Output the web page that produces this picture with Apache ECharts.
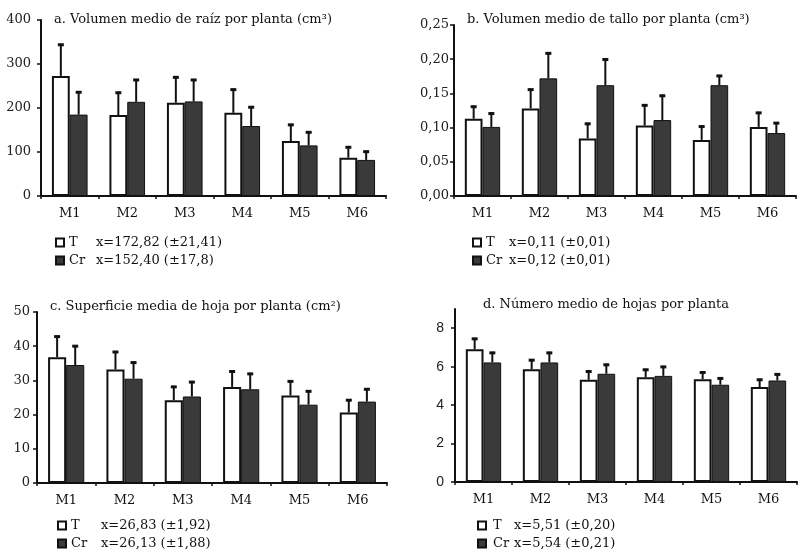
<!DOCTYPE html>
<html><head><meta charset="utf-8">
<script src="https://cdn.jsdelivr.net/npm/echarts@6/dist/echarts.min.js"></script>
<style>html,body{margin:0;padding:0;background:#fff}#c{width:799px;height:550px}</style>
</head><body><div id="c"></div>
<script>
var categories = ['M1','M2','M3','M4','M5','M6'];

var rootT = [273, 184, 212, 189, 125, 87];
var rootTErr = [73, 53, 60, 55, 39, 26];
var rootCr = [185, 214, 215, 159, 115, 82];
var rootCrErr = [53, 52, 51, 45, 32, 21];

var stemT = [0.113, 0.128, 0.084, 0.103, 0.082, 0.101];
var stemTErr = [0.019, 0.029, 0.023, 0.031, 0.021, 0.022];
var stemCr = [0.101, 0.172, 0.162, 0.111, 0.162, 0.092];
var stemCrErr = [0.021, 0.038, 0.039, 0.037, 0.015, 0.016];

var leafT = [36.8, 33.2, 24.2, 28.1, 25.6, 20.6];
var leafTErr = [6.3, 5.4, 4.2, 4.8, 4.4, 3.9];
var leafCr = [34.5, 30.5, 25.3, 27.4, 22.9, 23.8];
var leafCrErr = [5.8, 5.0, 4.5, 4.8, 4.2, 3.9];

var nLeafT = [6.91, 5.87, 5.32, 5.45, 5.35, 4.94];
var nLeafTErr = [0.59, 0.52, 0.48, 0.44, 0.40, 0.43];
var nLeafCr = [6.22, 6.22, 5.63, 5.52, 5.06, 5.28];
var nLeafCrErr = [0.55, 0.55, 0.52, 0.52, 0.38, 0.37];

var titles = [
  'a. Volumen medio de raíz por planta (cm³)',
  'b. Volumen medio de tallo por planta (cm³)',
  'c. Superficie media de hoja por planta (cm²)',
  'd. Número medio de hojas por planta'
];
var legendT = ['x=172,82 (±21,41)', 'x=0,11 (±0,01)', 'x=26,83 (±1,92)', 'x=5,51 (±0,20)'];
var legendCr = ['x=152,40 (±17,8)', 'x=0,12 (±0,01)', 'x=26,13 (±1,88)', 'x=5,54 (±0,21)'];

var yMax = [400, 0.25, 50, 9];
var yInterval = [100, 0.05, 10, 2];
var yTicks = [null, null, null, [0, 2, 4, 6, 8]];

var panels = [
  [rootT, rootTErr, rootCr, rootCrErr],
  [stemT, stemTErr, stemCr, stemCrErr],
  [leafT, leafTErr, leafCr, leafCrErr],
  [nLeafT, nLeafTErr, nLeafCr, nLeafCrErr]
];

var SERIF = '"DejaVu Serif", "Liberation Serif", serif';
var SANS = '"Liberation Sans", Arial, sans-serif';
var INK = '#111';
var DARK = '#3a3a3a';

var grids = [
  {left: 41, top: 20, width: 345, height: 176},
  {left: 454, top: 25, width: 342, height: 171},
  {left: 37, top: 312, width: 350, height: 171},
  {left: 455, top: 309, width: 342, height: 173}
];
var titlePos = [[54, 13], [467, 13], [50, 300], [483, 298]];
var legendPos = [[55, 236], [472, 236], [57, 519], [477, 519]];
var nameWidth = [27, 23, 30, 21];
var namePad = [0, 0, 0, 2];
var yMargin = [10, 5, 7, 11];

function errRender(sign) {
  return function (params, api) {
    var i = api.value(0), v = api.value(1), e = api.value(2);
    var base = api.coord([i, v]);
    var top = api.coord([i, v + e]);
    var band = api.size([1, 0])[0];
    var x = base[0] + sign * band * 0.155;
    return {type: 'group', children: [
      {type: 'line', shape: {x1: x, y1: base[1], x2: x, y2: top[1]}, style: {stroke: INK, lineWidth: 2}},
      {type: 'line', shape: {x1: x - 3, y1: top[1] + 1, x2: x + 3, y2: top[1] + 1}, style: {stroke: INK, lineWidth: 3}}
    ]};
  };
}

function fmtY(p) {
  return function (v) {
    if (p === 1) return v.toFixed(2).replace('.', ',');
    return String(Math.round(v));
  };
}

var option = {
  animation: false,
  backgroundColor: '#fff',
  title: titles.map(function (t, k) {
    return {text: t, left: titlePos[k][0], top: titlePos[k][1], padding: 0,
      textStyle: {fontFamily: SERIF, fontSize: 13, fontWeight: 'normal', color: INK}};
  }),
  grid: grids,
  legend: [], xAxis: [], yAxis: [], series: []
};

panels.forEach(function (p, k) {
  option.legend.push({
    data: ['T', 'Cr'], orient: 'vertical', left: legendPos[k][0], top: legendPos[k][1],
    padding: 0, itemGap: 5, itemWidth: 8, itemHeight: 8, icon: 'rect', selectedMode: false,
    textStyle: {fontFamily: SERIF, fontSize: 13, color: INK,
      rich: {n: {width: nameWidth[k], padding: [0, 0, 0, namePad[k]], fontFamily: SERIF, fontSize: 13, color: INK},
             v: {fontFamily: SERIF, fontSize: 13, color: INK}}},
    formatter: (function (kk) {
      return function (name) {
        return '{n|' + name + '}{v|' + (name === 'T' ? legendT[kk] : legendCr[kk]) + '}';
      };
    })(k)
  });
  option.xAxis.push({
    type: 'category', gridIndex: k, data: categories,
    axisLine: {lineStyle: {color: INK, width: 2}},
    axisTick: {show: true, length: 3, lineStyle: {color: INK, width: 1.5}},
    axisLabel: {fontFamily: SERIF, fontSize: 13, color: INK, margin: 11}
  });
  var ya = {
    type: 'value', gridIndex: k, min: 0, max: yMax[k], interval: yInterval[k],
    splitLine: {show: false},
    axisLine: {show: true, lineStyle: {color: INK, width: 2}},
    axisTick: {show: true, length: 4, lineStyle: {color: INK, width: 1.5}},
    axisLabel: {fontFamily: k === 3 ? SANS : SERIF, fontSize: k === 3 ? 14 : 13, color: '#222', margin: yMargin[k], formatter: fmtY(k)}
  };
  if (yTicks[k]) {
    ya.axisLabel.customValues = yTicks[k];
    ya.axisTick.customValues = yTicks[k];
  }
  option.yAxis.push(ya);
  option.series.push({
    name: 'T', type: 'bar', xAxisIndex: k, yAxisIndex: k, data: p[0],
    barWidth: '31%', barGap: '0%',
    itemStyle: {color: '#fff', borderColor: INK, borderWidth: 2}
  });
  option.series.push({
    name: 'Cr', type: 'bar', xAxisIndex: k, yAxisIndex: k, data: p[2],
    barWidth: '31%', barGap: '0%',
    itemStyle: {color: DARK, borderColor: INK, borderWidth: 1}
  });
  option.series.push({
    name: 'errT' + k, type: 'custom', xAxisIndex: k, yAxisIndex: k, z: 5,
    renderItem: errRender(-1), encode: {x: 0, y: 1},
    data: p[0].map(function (v, i) { return [i, v, p[1][i]]; })
  });
  option.series.push({
    name: 'errCr' + k, type: 'custom', xAxisIndex: k, yAxisIndex: k, z: 5,
    renderItem: errRender(1), encode: {x: 0, y: 1},
    data: p[2].map(function (v, i) { return [i, v, p[3][i]]; })
  });
});

var chart = echarts.init(document.getElementById('c'), null, {renderer: 'canvas'});
chart.setOption(option);
</script>
</body></html>
